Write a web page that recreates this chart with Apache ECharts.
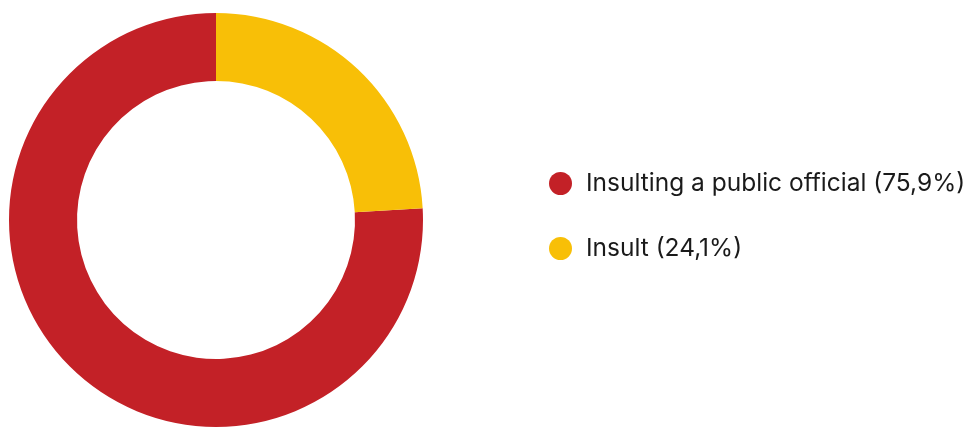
<!DOCTYPE html>
<html>
<head>
<meta charset="utf-8">
<script src="https://cdn.jsdelivr.net/npm/echarts@6/dist/echarts.min.js"></script>
<style>html,body{margin:0;padding:0;background:#fff}#c{width:973px;height:428px}</style>
</head>
<body>
<div id="c"></div>
<script>
var categories = ["Insulting a public official", "Insult"];
var values = [75.9, 24.1];
var colors = ["#c32127", "#f8bf07"];

var chart = echarts.init(document.getElementById('c'), null, {renderer: 'canvas'});
var data = categories.map(function (n, i) {
  return {name: n, value: values[i], itemStyle: {color: colors[i]}};
});
function fmtPct(v) { return v.toFixed(1).replace('.', ','); }
chart.setOption({
  animation: false,
  legend: {
    orient: 'vertical',
    left: 544,
    top: 166,
    icon: 'circle',
    itemWidth: 23,
    itemHeight: 23,
    itemGap: 40,
    textStyle: {fontFamily: 'Inter', fontSize: 24.5, color: '#1a1a1a', padding: [0, 0, 0, 9]},
    formatter: function (name) {
      var i = categories.indexOf(name);
      return name + ' (' + fmtPct(values[i]) + '%)';
    },
    data: categories
  },
  series: [{
    type: 'pie',
    center: [216, 220],
    radius: [139, 207],
    startAngle: 90,
    clockwise: false,
    label: {show: false},
    labelLine: {show: false},
    emphasis: {disabled: true},
    data: data
  }]
});
</script>
</body>
</html>
